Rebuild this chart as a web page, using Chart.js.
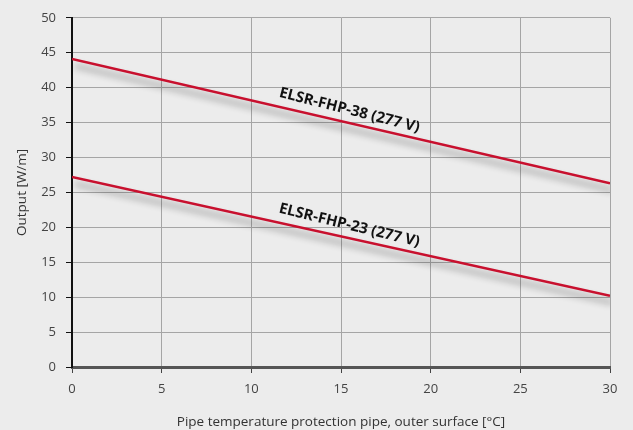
<!DOCTYPE html>
<html>
<head>
<meta charset="utf-8">
<script src="https://cdn.jsdelivr.net/npm/chart.js@4/dist/chart.umd.min.js"></script>
<style>
  html, body { margin: 0; padding: 0; background: #ececec; }
  #wrap { width: 633px; height: 430px; }
</style>
</head>
<body>
<div id="wrap"><canvas id="chart" width="633" height="430"></canvas></div>
<script>
const temps = [0, 30];
const out38 = [44.1, 26.3];
const out23 = [27.2, 10.2];
const seriesNames = ['ELSR-FHP-38 (277 V)', 'ELSR-FHP-23 (277 V)'];
const yTicks = [0, 5, 10, 15, 20, 25, 30, 35, 40, 45, 50];
const xTicks = [0, 5, 10, 15, 20, 25, 30];

const toPoints = (ys) => temps.map((t, i) => ({x: t, y: ys[i]}));

// shadow under the red lines
const lineShadow = {
    id: 'lineShadow',
    beforeDatasetDraw(chart) {
        const ctx = chart.ctx;
        ctx.save();
        ctx.shadowColor = 'rgba(0,0,0,0.45)';
        ctx.shadowBlur = 7;
        ctx.shadowOffsetX = 3;
        ctx.shadowOffsetY = 7;
    },
    afterDatasetDraw(chart) {
        chart.ctx.restore();
    }
};

// rotated labels along each line
const lineLabels = {
    id: 'lineLabels',
    afterDatasetsDraw(chart) {
        const ctx = chart.ctx;
        const xs = chart.scales.x, ys = chart.scales.y;
        chart.data.datasets.forEach((ds, i) => {
            const p0 = ds.data[0], p1 = ds.data[ds.data.length - 1];
            const x0 = xs.getPixelForValue(p0.x), y0 = ys.getPixelForValue(p0.y);
            const x1 = xs.getPixelForValue(p1.x), y1 = ys.getPixelForValue(p1.y);
            const ang = Math.atan2(y1 - y0, x1 - x0) + 0.02;
            const t = 0.51;
            const cx = x0 + (x1 - x0) * t, cy = y0 + (y1 - y0) * t;
            ctx.save();
            ctx.translate(cx, cy);
            ctx.rotate(ang);
            ctx.font = 'bold 15px "Open Sans", sans-serif';
            ctx.fillStyle = '#111';
            ctx.textAlign = 'center';
            ctx.textBaseline = 'bottom';
            ctx.fillText(ds.label, 0, -5);
            ctx.restore();
        });
    }
};

new Chart(document.getElementById('chart'), {
    type: 'line',
    data: {
        datasets: [
            {
                label: seriesNames[0],
                data: toPoints(out38),
                borderColor: '#c8102e',
                borderWidth: 2.5,
                pointRadius: 0,
                fill: false
            },
            {
                label: seriesNames[1],
                data: toPoints(out23),
                borderColor: '#c8102e',
                borderWidth: 2.5,
                pointRadius: 0,
                fill: false
            }
        ]
    },
    options: {
        responsive: false,
        animation: false,
        layout: { padding: { top: 14, right: 23, left: 0, bottom: 0 } },
        scales: {
            x: {
                type: 'linear',
                min: 0,
                max: 30,
                afterBuildTicks: (s) => { s.ticks = xTicks.map(v => ({value: v})); },
                afterFit: (s) => { s.height = 63; },
                grid: { color: '#a5a5a5', lineWidth: 1, tickLength: 6, tickColor: '#444' },
                border: { color: '#555', width: 3 },
                ticks: { color: '#444', font: { family: 'Open Sans', size: 13 }, padding: 8 },
                title: {
                    display: true,
                    text: 'Pipe temperature protection pipe, outer surface [°C]',
                    color: '#333',
                    font: { family: 'Open Sans', size: 13.5 },
                    padding: { top: 6, bottom: 0 }
                }
            },
            y: {
                min: 0,
                max: 50,
                afterBuildTicks: (s) => { s.ticks = yTicks.map(v => ({value: v})); },
                afterFit: (s) => { s.width = 72; },
                grid: { color: '#a5a5a5', lineWidth: 1, tickLength: 6, tickColor: '#111' },
                border: { color: '#111', width: 2 },
                ticks: { color: '#444', font: { family: 'Open Sans', size: 13 }, padding: 10 },
                title: {
                    display: true,
                    text: 'Output [W/m]',
                    color: '#333',
                    font: { family: 'Open Sans', size: 13.5 },
                    padding: { top: 14, bottom: 2 }
                }
            }
        },
        plugins: {
            legend: { display: false },
            tooltip: { enabled: false }
        }
    },
    plugins: [lineShadow, lineLabels]
});
</script>
</body>
</html>
